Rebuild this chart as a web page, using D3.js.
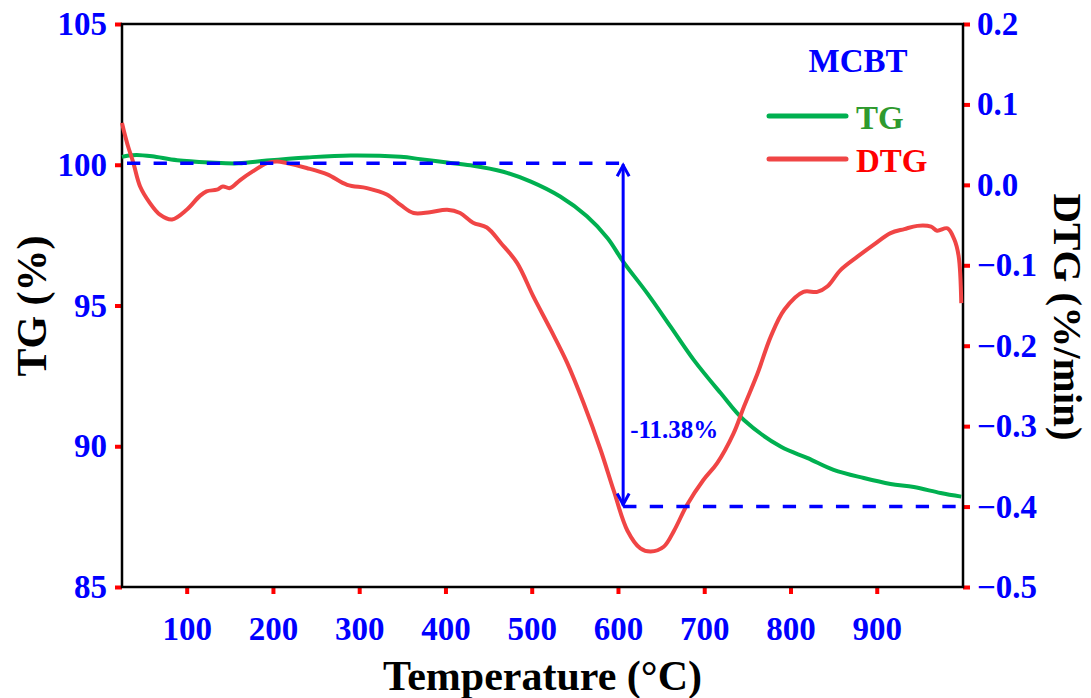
<!DOCTYPE html>
<html lang="en">
<head>
    <meta charset="UTF-8">
    <title>MCBT TG / DTG</title>
</head>
<body style="margin:0;background:#fff;">
<style>
text {
    font-family: 'Liberation Serif', 'Times New Roman', serif;
    font-weight: bold;
}
</style>
<script src="https://cdn.jsdelivr.net/npm/d3@7/dist/d3.min.js"></script>
<svg class="container"></svg>
<script>
// ---- data ----
const tgTemp = [25, 33, 42, 60, 89, 127, 160, 193, 240, 290, 348, 371, 402, 429, 467, 499, 533, 564, 588, 606, 634, 661, 688, 719, 746, 789, 820, 850, 885, 916, 943, 974, 998];
const tgValues = [100.28, 100.33, 100.35, 100.3, 100.16, 100.08, 100.05, 100.15, 100.26, 100.33, 100.28, 100.2, 100.08, 99.98, 99.75, 99.4, 98.87, 98.17, 97.39, 96.56, 95.43, 94.25, 93.06, 91.89, 90.93, 89.98, 89.58, 89.16, 88.87, 88.66, 88.55, 88.34, 88.21];

const dtgTemp = [25, 27, 32, 38, 46, 57, 69, 83, 100, 115, 123, 135, 142, 150, 162, 177, 193, 205, 216, 239, 263, 286, 309, 332, 348, 363, 382, 402, 417, 432, 448, 464, 483, 502, 522, 541, 560, 580, 595, 611, 626, 638, 653, 665, 680, 699, 715, 734, 746, 762, 777, 793, 815, 831, 843, 858, 878, 897, 916, 932, 947, 963, 970, 982, 990, 995, 998];
const dtgValues = [0.077, 0.068, 0.048, 0.028, -0.002, -0.022, -0.037, -0.043, -0.031, -0.014, -0.008, -0.006, -0.002, -0.004, 0.006, 0.017, 0.027, 0.029, 0.027, 0.021, 0.013, 0.0, -0.004, -0.012, -0.025, -0.035, -0.034, -0.031, -0.035, -0.047, -0.053, -0.072, -0.097, -0.139, -0.180, -0.221, -0.271, -0.330, -0.380, -0.430, -0.452, -0.456, -0.450, -0.430, -0.398, -0.367, -0.346, -0.309, -0.276, -0.234, -0.189, -0.155, -0.133, -0.133, -0.126, -0.106, -0.089, -0.074, -0.060, -0.055, -0.051, -0.052, -0.057, -0.054, -0.068, -0.089, -0.147];

const xTicks = [100, 200, 300, 400, 500, 600, 700, 800, 900];
const tgTicks = [85, 90, 95, 100, 105];
const dtgTicks = [-0.5, -0.4, -0.3, -0.2, -0.1, 0.0, 0.1, 0.2];

// mass loss annotation
const lossTemp = 606;
const lossTop = 100.05;   // TG level (left axis)
const lossBottom = -0.4;  // DTG level (right axis)
const lossLabel = '-11.38%';

// ---- layout ----
const width = 1091, height = 698;
const mLeft = 122, mRight = 963, mTop = 24, mBottom = 587;

const blue = '#0000ff', red = '#ff0000', green = '#00b050', redLine = '#f04545';

const svg = d3.select('svg.container')
    .attr('width', width)
    .attr('height', height);

const x = d3.scaleLinear().domain([25, 1000]).range([mLeft, mRight]);
const yTG = d3.scaleLinear().domain([85, 105]).range([mBottom, mTop]);
const yDTG = d3.scaleLinear().domain([-0.5, 0.2]).range([mBottom, mTop]);

// axes (red ticks, blue labels)
function styleAxis(g) {
    g.select('.domain').remove();
    g.selectAll('.tick line').attr('stroke', red).attr('stroke-width', 4);
    g.selectAll('.tick text')
        .attr('fill', blue)
        .style('font-size', '33px')
        .style('font-family', "'Liberation Serif', 'Times New Roman', serif")
        .style('font-weight', 'bold');
}

svg.append('g')
    .attr('transform', `translate(0,${mBottom})`)
    .call(d3.axisBottom(x).tickValues(xTicks).tickSize(7).tickPadding(10))
    .call(styleAxis)
    .selectAll('.tick text').attr('dy', '1.1em');

svg.append('g')
    .attr('transform', `translate(${mLeft},0)`)
    .call(d3.axisLeft(yTG).tickValues(tgTicks).tickSize(7).tickPadding(8))
    .call(styleAxis);

svg.append('g')
    .attr('transform', `translate(${mRight},0)`)
    .call(d3.axisRight(yDTG).tickValues(dtgTicks).tickFormat(d3.format('.1f')).tickSize(7).tickPadding(7))
    .call(styleAxis);

// frame
svg.append('rect')
    .attr('x', mLeft).attr('y', mTop)
    .attr('width', mRight - mLeft).attr('height', mBottom - mTop)
    .attr('fill', 'none')
    .attr('stroke', '#000')
    .attr('stroke-width', 2.5);

// lines
const tgData = tgTemp.map((t, i) => ({t: t, v: tgValues[i]}));
const dtgData = dtgTemp.map((t, i) => ({t: t, v: dtgValues[i]}));

svg.append('path')
    .datum(tgData)
    .attr('fill', 'none')
    .attr('stroke', green)
    .attr('stroke-width', 4)
    .attr('d', d3.line().x(d => x(d.t)).y(d => yTG(d.v)).curve(d3.curveCatmullRom));

svg.append('path')
    .datum(dtgData)
    .attr('fill', 'none')
    .attr('stroke', redLine)
    .attr('stroke-width', 4)
    .attr('d', d3.line().x(d => x(d.t)).y(d => yDTG(d.v)).curve(d3.curveCatmullRom));

// dashed guides + double arrow
const ax = x(lossTemp), ay1 = yTG(lossTop), ay2 = yDTG(lossBottom);
svg.append('line')
    .attr('x1', mLeft + 5).attr('x2', ax + 6)
    .attr('y1', ay1).attr('y2', ay1)
    .attr('stroke', blue).attr('stroke-width', 3.5)
    .attr('stroke-dasharray', '13.3,13.3');
svg.append('line')
    .attr('x1', ax).attr('x2', mRight)
    .attr('y1', ay2).attr('y2', ay2)
    .attr('stroke', blue).attr('stroke-width', 3.5)
    .attr('stroke-dasharray', '13.3,13.3');

svg.append('line')
    .attr('x1', ax).attr('x2', ax)
    .attr('y1', ay1 + 1).attr('y2', ay2 - 1)
    .attr('stroke', blue).attr('stroke-width', 3);
svg.append('path')
    .attr('d', `M${ax - 6},${ay1 + 13}L${ax},${ay1 + 2}L${ax + 6},${ay1 + 13}`)
    .attr('fill', 'none').attr('stroke', blue).attr('stroke-width', 3);
svg.append('path')
    .attr('d', `M${ax - 6},${ay2 - 13}L${ax},${ay2 - 2}L${ax + 6},${ay2 - 13}`)
    .attr('fill', 'none').attr('stroke', blue).attr('stroke-width', 3);

svg.append('text')
    .attr('x', ax + 7).attr('y', 438)
    .attr('fill', blue)
    .style('font-size', '25px')
    .text(lossLabel);

// legend
svg.append('text')
    .attr('x', 858).attr('y', 72)
    .attr('text-anchor', 'middle')
    .attr('fill', blue)
    .style('font-size', '33px')
    .text('MCBT');

const legend = [
    {name: 'TG', line: green, text: '#2e9a2e', y: 116},
    {name: 'DTG', line: redLine, text: red, y: 159}
];
legend.forEach(l => {
    svg.append('line')
        .attr('x1', 769).attr('x2', 846)
        .attr('y1', l.y).attr('y2', l.y)
        .attr('stroke', l.line).attr('stroke-width', 5)
        .attr('stroke-linecap', 'round');
    svg.append('text')
        .attr('x', 856).attr('y', l.y + 13)
        .attr('fill', l.text)
        .style('font-size', '33px')
        .text(l.name);
});

// axis titles
svg.append('text')
    .attr('x', (mLeft + mRight) / 2).attr('y', 690)
    .attr('text-anchor', 'middle')
    .attr('fill', '#000')
    .style('font-size', '42px')
    .text('Temperature (°C)');

svg.append('text')
    .attr('transform', 'translate(46,306) rotate(-90)')
    .attr('text-anchor', 'middle')
    .attr('fill', '#000')
    .style('font-size', '42px')
    .text('TG (%)');

svg.append('text')
    .attr('transform', 'translate(1054,317) rotate(90)')
    .attr('text-anchor', 'middle')
    .attr('fill', '#000')
    .style('font-size', '41px')
    .text('DTG (%/min)');
</script>
</body>
</html>
